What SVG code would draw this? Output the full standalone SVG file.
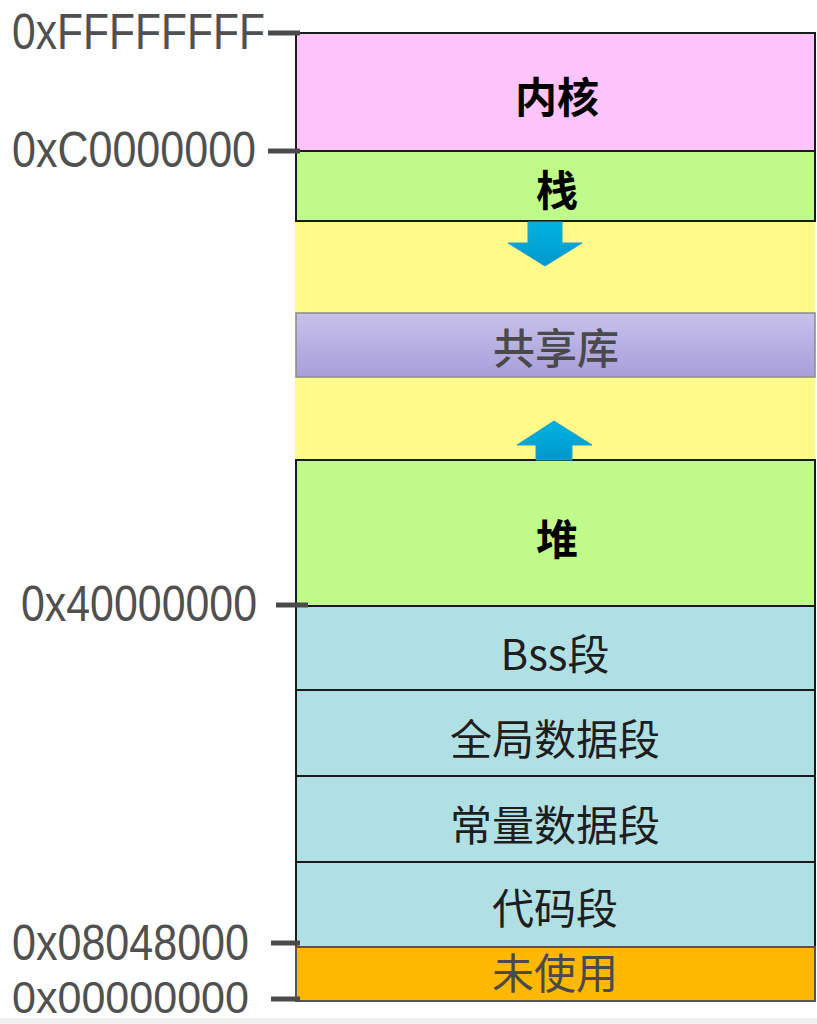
<svg xmlns="http://www.w3.org/2000/svg" width="817" height="1024" viewBox="0 0 817 1024">
<style>
.seg{stroke:#1a1a1a;stroke-width:2}
.addr{font-family:"Liberation Sans",Arial,sans-serif;font-size:50px;fill:#505050}
.lbl{font-family:"Noto Sans CJK SC","Liberation Sans",sans-serif;font-size:42px;text-anchor:middle;dominant-baseline:central}
.b{font-weight:bold;fill:#000}
.n{fill:#1e1e1e}
.g{fill:#4a4a4a;font-weight:500}
.tick{stroke:#4a4a4a;stroke-width:5}
.arrow{fill:url(#arr);stroke:#2a9cc8;stroke-width:1}
</style>
<defs>
<linearGradient id="lib" x1="0" y1="0" x2="0" y2="1">
<stop offset="0" stop-color="#c8c2ec"/>
<stop offset="1" stop-color="#a79ed9"/>
</linearGradient>
<linearGradient id="arr" x1="0" y1="0" x2="0" y2="1">
<stop offset="0" stop-color="#00b4e0"/>
<stop offset="1" stop-color="#0098cc"/>
</linearGradient>
</defs>
<rect x="0" y="1018" width="817" height="6" fill="#f0f0f0"/>
<g id="free-area"><rect x="295" y="222" width="520" height="238" fill="#fffa8a"/></g>
<g id="kernel"><rect class="seg" x="296" y="33" width="519" height="118" fill="#ffc4fc"/><text class="lbl b" x="557" y="94">内核</text></g>
<g id="stack"><rect class="seg" x="296" y="151" width="519" height="70" fill="#c0fa8a"/><text class="lbl b" x="557" y="187">栈</text></g>
<g id="shared-lib"><rect x="296" y="313" width="519" height="64" fill="url(#lib)" stroke="#8a8a8a" stroke-width="1.5"/><text class="lbl g" x="556" y="345">共享库</text></g>
<g id="heap"><rect class="seg" x="296" y="460" width="519" height="146" fill="#c0fa8a"/><text class="lbl b" x="557" y="536">堆</text></g>
<g id="bss"><rect class="seg" x="296" y="606" width="519" height="84" fill="#b0e0e4"/><text class="lbl n" x="555" y="651">Bss段</text></g>
<g id="global"><rect class="seg" x="296" y="690" width="519" height="86" fill="#b0e0e4"/><text class="lbl n" x="555" y="736">全局数据段</text></g>
<g id="const"><rect class="seg" x="296" y="776" width="519" height="86" fill="#b0e0e4"/><text class="lbl n" x="555" y="822">常量数据段</text></g>
<g id="code"><rect class="seg" x="296" y="862" width="519" height="85" fill="#b0e0e4"/><text class="lbl n" x="555" y="905">代码段</text></g>
<g id="unused"><rect x="296" y="947" width="519" height="54" fill="#ffb800" stroke="#555" stroke-width="2"/><text class="lbl g" x="555" y="970" style="font-weight:normal">未使用</text></g>
<g id="connectors">
<polygon class="arrow" points="528,222 562,222 562,243 582,243 545,266 508,243 528,243"/>
<polygon class="arrow" points="536,460 572,460 572,445 592,445 554,421 517,445 536,445"/>
</g>
<g id="addresses">
<line class="tick" x1="268" y1="33" x2="300" y2="33"/>
<line class="tick" x1="268" y1="151" x2="300" y2="151"/>
<line class="tick" x1="276" y1="605" x2="308" y2="605"/>
<line class="tick" x1="271" y1="943" x2="300" y2="943"/>
<line class="tick" x1="271" y1="999" x2="300" y2="999"/>
<text class="addr" x="12" y="49" textLength="253" lengthAdjust="spacingAndGlyphs">0xFFFFFFFF</text>
<text class="addr" x="12" y="167" textLength="244" lengthAdjust="spacingAndGlyphs">0xC0000000</text>
<text class="addr" x="21" y="621" textLength="236" lengthAdjust="spacingAndGlyphs">0x40000000</text>
<text class="addr" x="12" y="960" textLength="237" lengthAdjust="spacingAndGlyphs">0x08048000</text>
<text class="addr" x="12" y="1013" style="font-size:45px" textLength="237" lengthAdjust="spacingAndGlyphs">0x00000000</text>
</g>
</svg>
